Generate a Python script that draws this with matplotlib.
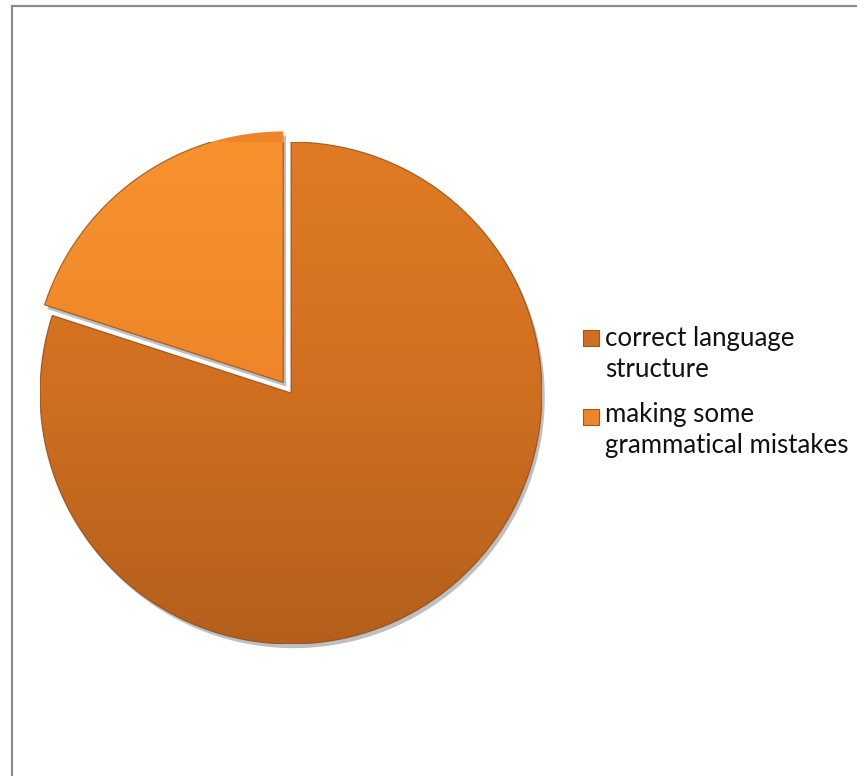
import matplotlib
matplotlib.use("Agg")
import matplotlib.pyplot as plt
import numpy as np
from matplotlib.colors import LinearSegmentedColormap
from matplotlib.patches import PathPatch, Rectangle
import matplotlib.patheffects as pe

# ---- data ----
categories = ["correct language structure", "making some grammatical mistakes"]
legend_lines = [["correct language", "structure"], ["making some", "grammatical mistakes"]]
values = [80, 20]

# ---- styles ----
W, H, DPI = 857, 776, 100
top_colors = ["#E27D24", "#F9932F"]
bot_colors = ["#B15E1D", "#DC7925"]
mid_colors = ["#D06F20", "#EE8629"]
edge_color = "#8A4A16"

fig = plt.figure(figsize=(W / DPI, H / DPI), dpi=DPI)
fig.patch.set_facecolor("white")

# chart frame (left and top edges visible)
fig.patches.append(Rectangle((12 / W, -0.1), 1.2, (H - 6) / H + 0.1, transform=fig.transFigure,
                             fill=False, ec="#8C8C8C", lw=1.6, zorder=0))

cx, cy, r = 291, 393, 251
ax = fig.add_axes([(cx - r) / W, (H - cy - r) / H, 2 * r / W, 2 * r / H])
wedges, _ = ax.pie(values, explode=[0, 0.052], startangle=90, counterclock=False,
                   colors=mid_colors, radius=1,
                   wedgeprops=dict(linewidth=0,
                                   path_effects=[pe.SimplePatchShadow(offset=(2, -3), shadow_rgbFace="#000000", alpha=0.25),
                                                 pe.Normal()]))
ax.set_xlim(-1, 1)
ax.set_ylim(-1, 1)
ax.set_aspect("equal")
ax.axis("off")

grad = np.linspace(1, 0, 256).reshape(-1, 1)
for i, w in enumerate(wedges):
    cmap = LinearSegmentedColormap.from_list(f"g{i}", [bot_colors[i], mid_colors[i], top_colors[i]])
    im = ax.imshow(grad, cmap=cmap, extent=(-1.2, 1.2, -1.1, 1.15), origin="upper",
                   aspect="auto", zorder=2, vmin=0, vmax=1)
    im.set_clip_path(w)
    ax.add_patch(PathPatch(w.get_path(), transform=w.get_transform(), fill=False,
                           ec=edge_color, lw=0.9, zorder=3, alpha=0.7))
ax.set_xlim(-1, 1)
ax.set_ylim(-1, 1)

# ---- legend ----
font = ["Lato", "DejaVu Sans"]
target_w = 243  # px width of the widest line
probe = fig.text(0, 0, "grammatical mistakes", fontsize=10, family=font)
fig.canvas.draw()
pw = probe.get_window_extent().width
probe.remove()
fs = 10 * target_w / pw

marker_x, marker_w, marker_h = 583, 16, 16
text_x = 605
baselines = [[346, 377], [422, 453]]
marker_tops = [330, 409]
for i in range(len(categories)):
    fig.patches.append(Rectangle((marker_x / W, (H - marker_tops[i] - marker_h) / H), marker_w / W, marker_h / H,
                                 transform=fig.transFigure, fc=mid_colors[i], ec="#9A5A22", lw=0.8))
    for line, yb in zip(legend_lines[i], baselines[i]):
        fig.text(text_x / W, (H - yb) / H, line, fontsize=fs, family=font, color="#111111",
                 ha="left", va="baseline")

fig.savefig("out.png", dpi=DPI, facecolor="white")
